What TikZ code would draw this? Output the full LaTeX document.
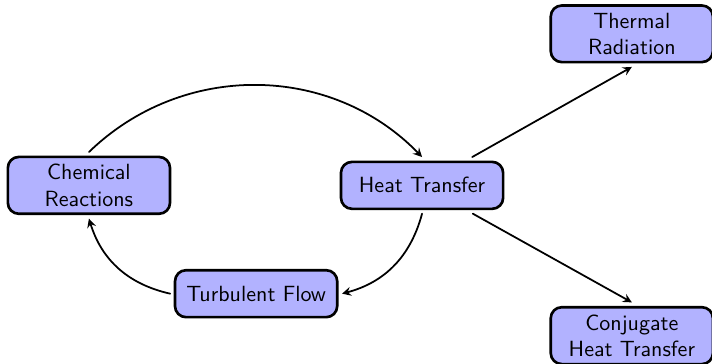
\documentclass[tikz,border=0pt]{standalone}
\usetikzlibrary{arrows}
\begin{document}
\begin{tikzpicture}[>=stealth, font=\sffamily, line join=round, line cap=round,
	box/.style={draw, very thick, rounded corners=5pt, fill=blue!30, align=center,
		minimum width=2.59cm, minimum height=0.75cm, outer sep=2.2pt}]
	\useasboundingbox (-6.74,-2.85) rectangle (4.63,2.96);
	% Các khối
	\node[box] (heat) at (0,0) {Heat Transfer};
	\node[box] (chem) at (-5.32,0) {Chemical\\Reactions};
	\node[box] (turb) at (-2.65,-1.73) {Turbulent Flow};
	\node[box] (rad) at (3.35,2.42) {Thermal\\Radiation};
	\node[box] (conj) at (3.35,-2.40) {Conjugate\\Heat Transfer};
	% Mũi tên
	\draw[->, thick] (chem.north) to[bend left=45] (heat.north);
	\draw[->, thick] (heat.south) to[bend left=30] (turb.east);
	\draw[->, thick] (turb.west) to[bend left=30] (chem.south);
	\draw[->, thick] (heat) -- (rad.south);
	\draw[->, thick] (heat) -- (conj.north);
\end{tikzpicture}
\end{document}
